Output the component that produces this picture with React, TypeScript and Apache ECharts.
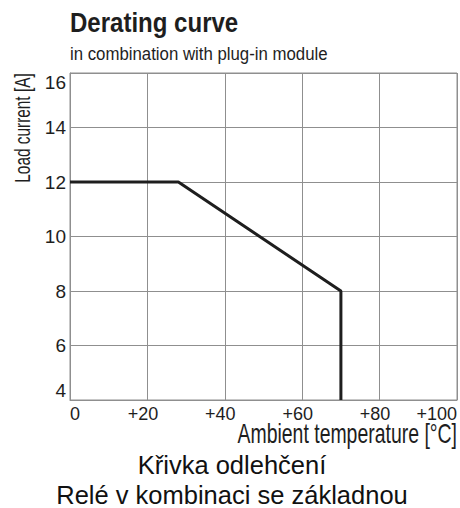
import React, { useEffect, useRef } from "react";
import * as echarts from "echarts";

const temperature = [0, 28, 70, 70];
const loadCurrent = [12, 12, 8, 4];
const tempTicks = [0, 20, 40, 60, 80, 100];
const currentTicks = [4, 6, 8, 10, 12, 14, 16];

const SANS = "'Liberation Sans', Arial, sans-serif";
const GRID = "#8f8f8f";
const INK = "#1e1e1e";

export default function App() {
  const ref = useRef<HTMLDivElement>(null);
  useEffect(() => {
    document.body.style.margin = "0";
    const chart = echarts.init(ref.current!, null, { renderer: "svg" });
    chart.setOption({
      animation: false,
      backgroundColor: "#ffffff",
      grid: {
        left: 70,
        right: 2,
        top: 73,
        bottom: 108,
        show: true,
        borderColor: GRID,
        borderWidth: 1,
      },
      xAxis: {
        type: "value",
        min: tempTicks[0],
        max: tempTicks[tempTicks.length - 1],
        interval: tempTicks[1] - tempTicks[0],
        axisLine: { show: true, lineStyle: { color: GRID, width: 1 } },
        axisTick: { show: false },
        splitLine: { show: true, lineStyle: { color: GRID, width: 1 } },
        axisLabel: {
          fontFamily: SANS,
          fontSize: 18,
          lineHeight: 18,
          color: INK,
          margin: 5,
          alignMinLabel: "left",
          alignMaxLabel: "right",
          formatter: (v: number) => (v === 0 ? "0" : v === 100 ? "+" + v : "{c|+" + v + "}"),
          rich: {
            c: { fontFamily: SANS, fontSize: 18, lineHeight: 18, color: INK, padding: [0, 9, 0, 0] },
          },
        },
      },
      yAxis: {
        type: "value",
        min: currentTicks[0],
        max: currentTicks[currentTicks.length - 1],
        interval: currentTicks[1] - currentTicks[0],
        axisLine: { show: true, lineStyle: { color: GRID, width: 1 } },
        axisTick: { show: false },
        splitLine: { show: true, lineStyle: { color: GRID, width: 1 } },
        axisLabel: {
          fontFamily: SANS,
          fontSize: 19,
          color: INK,
          margin: 4,
          verticalAlignMinLabel: "bottom",
          verticalAlignMaxLabel: "top",
        },
      },
      series: [
        {
          type: "line",
          data: temperature.map((t, i) => [t, loadCurrent[i]]),
          showSymbol: false,
          lineStyle: { color: INK, width: 3 },
          silent: true,
        },
      ],
      graphic: [
        {
          type: "text",
          x: 70,
          y: 22.5,
          scaleX: 0.89,
          style: {
            text: "Derating curve",
            font: `bold 27px ${SANS}`,
            fill: INK,
            textAlign: "left",
            textVerticalAlign: "middle",
          },
        },
        {
          type: "text",
          x: 70,
          y: 54,
          scaleX: 0.96,
          style: {
            text: "in combination with plug-in module",
            font: `17.5px ${SANS}`,
            fill: INK,
            textAlign: "left",
            textVerticalAlign: "middle",
          },
        },
        {
          type: "text",
          x: 22,
          y: 128,
          rotation: Math.PI / 2,
          scaleX: 0.7,
          style: {
            text: "Load current [A]",
            font: `22px ${SANS}`,
            fill: INK,
            textAlign: "center",
            textVerticalAlign: "middle",
          },
        },
        {
          type: "text",
          x: 457,
          y: 434,
          scaleX: 0.72,
          style: {
            text: "Ambient temperature [°C]",
            font: `27px ${SANS}`,
            fill: INK,
            textAlign: "right",
            textVerticalAlign: "middle",
          },
        },
        {
          type: "text",
          x: 232,
          y: 465,
          style: {
            text: "Křivka odlehčení",
            font: `25.5px ${SANS}`,
            fill: "#111",
            textAlign: "center",
            textVerticalAlign: "middle",
          },
        },
        {
          type: "text",
          x: 232,
          y: 495,
          style: {
            text: "Relé v kombinaci se základnou",
            font: `25.5px ${SANS}`,
            fill: "#111",
            textAlign: "center",
            textVerticalAlign: "middle",
          },
        },
      ],
    });
    return () => chart.dispose();
  }, []);
  return <div ref={ref} style={{ width: 460, height: 508 }} />;
}
